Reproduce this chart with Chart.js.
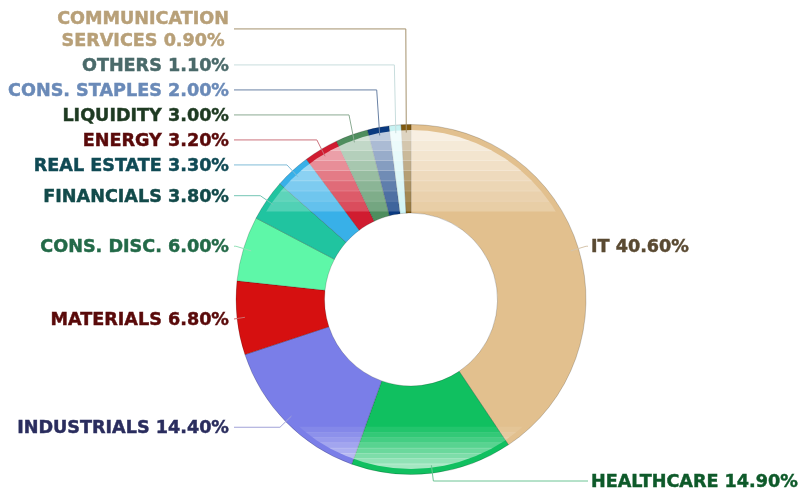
<!DOCTYPE html>
<html lang="en">
<head>
<meta charset="UTF-8">
<meta name="viewport" content="width=device-width, initial-scale=1.0">
<title>Sector allocation</title>
<script src="https://cdn.jsdelivr.net/npm/chart.js@4"></script>
<style>
    html, body {
        margin: 0;
        padding: 0;
        background: #fff;
    }
    #wrap {
        width: 801px;
        height: 489px;
        position: relative;
    }
</style>
</head>
<body>
<div id="wrap"><canvas id="sectorChart"></canvas></div>
<script>
// sector weights, clockwise from the top
const sectors = ['IT', 'HEALTHCARE', 'INDUSTRIALS', 'MATERIALS', 'CONS. DISC.', 'FINANCIALS',
                 'REAL ESTATE', 'ENERGY', 'LIQUIDITY', 'CONS. STAPLES', 'OTHERS', 'COMMUNICATION SERVICES'];
const weights = [40.6, 14.9, 14.4, 6.8, 6.0, 3.8, 3.3, 3.2, 3.0, 2.0, 1.1, 0.9];

const sliceColors = ['#e2c08e', '#10c060', '#7a7ee8', '#d61010', '#5ef7a8', '#20c4a0',
                     '#38b0e8', '#d01c30', '#4e8e5e', '#0a3a80', '#c8f2f2', '#805a10'];
const textColors = ['#5a4a32', '#0e5a2a', '#2a2d5e', '#5a0a0a', '#236a48', '#124a4a',
                    '#104a55', '#5a0a0a', '#1e3a22', '#6a8ab8', '#4a6a6a', '#b8a078'];

// blend a hex colour with grey for the leader lines
function mixGrey(hex, t) {
    const n = parseInt(hex.slice(1), 16);
    const r = (n >> 16) & 255, g = (n >> 8) & 255, b = n & 255;
    const m = v => Math.round(v * (1 - t) + 200 * t);
    return `rgb(${m(r)},${m(g)},${m(b)})`;
}

function drawGloss(ctx, cx, cy, R, r0) {
    const gr = R - 5.5;
    ctx.save();
    ctx.beginPath();
    ctx.arc(cx, cy, gr, 0, Math.PI * 2);
    ctx.clip();

    // upper highlight, fading downwards
    const top = cy - gr, bot = cy - r0 - 2;
    const up = [0.74, 0.66, 0.58, 0.5, 0.42, 0.35, 0.28, 0.22];
    const hu = (bot - top) / up.length;
    up.forEach((a, i) => {
        ctx.fillStyle = `rgba(255,255,255,${a})`;
        ctx.fillRect(cx - R, top + i * hu, 2 * R, hu + 0.5);
    });

    // lower highlight, brighter towards the rim
    const lt = cy + R * 0.727, lb = cy + gr;
    const low = [0.08, 0.15, 0.22, 0.3, 0.38, 0.46, 0.54, 0.62];
    const hl = (lb - lt) / low.length;
    low.forEach((a, i) => {
        ctx.fillStyle = `rgba(255,255,255,${a})`;
        ctx.fillRect(cx - R, lt + i * hl, 2 * R, hl + 0.5);
    });
    ctx.restore();
}

const outsideLabels = {
    id: 'outsideLabels',
    afterDatasetsDraw(chart) {
        const ctx = chart.ctx;
        const arcs = chart.getDatasetMeta(0).data;
        if (!arcs.length) return;
        const cx = arcs[0].x, cy = arcs[0].y;
        const R = arcs[0].outerRadius, r0 = arcs[0].innerRadius;

        drawGloss(ctx, cx, cy, R, r0);

        ctx.save();
        ctx.font = 'bold 17.6px "DejaVu Sans", Verdana, sans-serif';
        const lineH = 22, gap = 3;

        const items = arcs.map((arc, i) => {
            const mid = (arc.startAngle + arc.endAngle) / 2;
            const text = sectors[i] + ' ' + weights[i].toFixed(2) + '%';
            // simple word wrap for the long label
            const words = text.split(' ');
            const lines = [];
            let cur = '';
            words.forEach(w => {
                const test = cur ? cur + ' ' + w : w;
                if (cur && ctx.measureText(test).width > 250) {
                    lines.push(cur);
                    cur = w;
                } else {
                    cur = test;
                }
            });
            lines.push(cur);
            return {
                i, lines,
                h: lines.length * lineH + gap,
                right: Math.cos(mid) >= 0,
                ax: cx + Math.cos(mid) * (R - 8),
                ay: cy + Math.sin(mid) * (R - 8),
                nx: cx + Math.cos(mid) * (R + 8),
                ny: cy + Math.sin(mid) * (R + 8)
            };
        });

        // push overlapping labels upwards on each side
        [true, false].forEach(side => {
            const list = items.filter(it => it.right === side).sort((a, b) => b.ny - a.ny);
            let prev = null;
            list.forEach(it => {
                let y = Math.min(it.ny, chart.height - 8);
                if (prev) y = Math.min(y, prev.y - (prev.h / 2 + it.h / 2));
                it.y = Math.max(y, it.h / 2);
                prev = it;
            });
        });

        items.forEach(it => {
            const x0 = it.right ? cx + R + 2 : cx - R - 2;
            const ex = it.right ? Math.min(it.nx, x0) : Math.max(it.nx, x0);
            ctx.strokeStyle = mixGrey(sliceColors[it.i], 0.5);
            ctx.lineWidth = 1;
            ctx.beginPath();
            ctx.moveTo(x0, it.y);
            ctx.lineTo(ex, it.y);
            ctx.lineTo(it.ax, it.ay);
            ctx.stroke();

            ctx.fillStyle = textColors[it.i];
            ctx.strokeStyle = textColors[it.i];
            ctx.lineWidth = 0.45;
            ctx.textBaseline = 'middle';
            const tx = it.right ? cx + R + 5 : cx - R - 7;
            const bw = Math.max(...it.lines.map(l => ctx.measureText(l).width));
            const n = it.lines.length;
            it.lines.forEach((l, k) => {
                // +1.5 so the caps sit centred on the leader line
                const ly = it.y + 1.5 - (n - 1) * lineH / 2 + k * lineH;
                let lx = tx;
                if (n > 1) {
                    ctx.textAlign = 'center';
                    lx = it.right ? tx + bw / 2 : tx - bw / 2;
                } else {
                    ctx.textAlign = it.right ? 'left' : 'right';
                }
                ctx.fillText(l, lx, ly);
                ctx.strokeText(l, lx, ly);
            });
        });
        ctx.restore();
    }
};

const ctx = document.getElementById('sectorChart').getContext('2d');
const sectorChart = new Chart(ctx, {
    type: 'doughnut',
    data: {
        labels: sectors,
        datasets: [{
            data: weights,
            backgroundColor: sliceColors,
            borderColor: 'rgba(0,0,0,0.18)',
            borderWidth: 1,
            hoverOffset: 0
        }]
    },
    options: {
        responsive: true,
        maintainAspectRatio: false,
        animation: false,
        events: [],
        radius: 175,
        cutout: 86,
        layout: {
            padding: { left: 236, right: 215, top: 125, bottom: 15 }
        },
        plugins: {
            legend: { display: false },
            tooltip: { enabled: false }
        }
    },
    plugins: [outsideLabels]
});
</script>
</body>
</html>
